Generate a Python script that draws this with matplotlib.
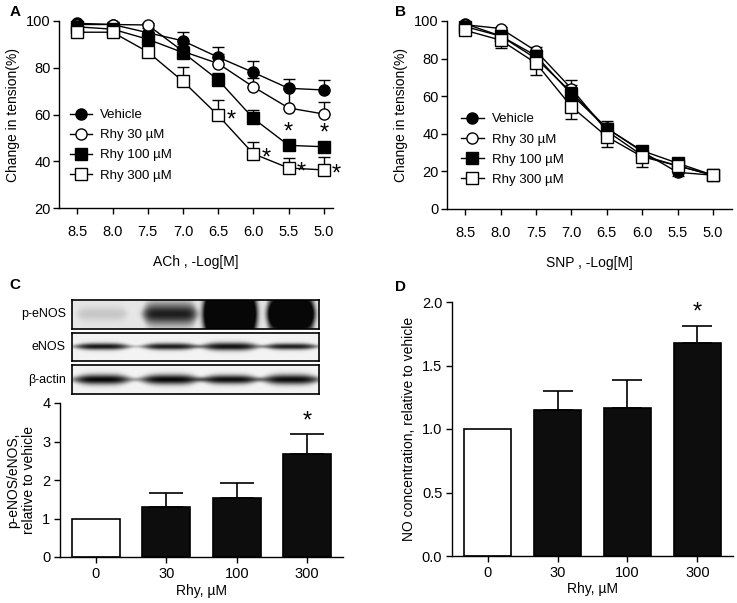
import numpy as np
import matplotlib
matplotlib.use("Agg")
import matplotlib.pyplot as plt

plt.rcParams['font.family'] = ['Liberation Sans', 'DejaVu Sans']
plt.rcParams['axes.linewidth'] = 1.0

# ---------------- data ----------------
doses = [8.5, 8.0, 7.5, 7.0, 6.5, 6.0, 5.5, 5.0]
dose_labels = ["8.5", "8.0", "7.5", "7.0", "6.5", "6.0", "5.5", "5.0"]
series_names = ["Vehicle", "Rhy 30 µM", "Rhy 100 µM", "Rhy 300 µM"]

ach_vehicle = [99.0, 98.5, 95.0, 91.5, 84.5, 78.0, 71.2, 70.5]
ach_rhy30 = [98.5, 98.5, 98.3, 87.0, 81.8, 71.8, 62.8, 60.2]
ach_rhy100 = [97.5, 96.5, 92.2, 86.5, 74.8, 58.3, 46.8, 46.2]
ach_rhy300 = [95.2, 95.2, 86.8, 74.2, 59.6, 43.2, 37.1, 36.3]
ach_err_vehicle = [1.0, 1.0, 2.0, 4.0, 4.5, 5.0, 4.0, 4.3]
ach_err_rhy30 = [1.0, 1.0, 1.0, 3.0, 4.0, 4.0, 8.0, 5.0]
ach_err_rhy100 = [1.0, 1.5, 3.0, 3.0, 3.0, 3.7, 1.5, 1.5]
ach_err_rhy300 = [1.5, 1.5, 2.0, 6.0, 6.6, 5.0, 4.5, 5.4]

snp_vehicle = [98.5, 92.0, 80.0, 62.0, 43.0, 30.5, 19.5, 18.0]
snp_rhy30 = [98.0, 96.0, 84.0, 64.0, 41.5, 28.5, 23.0, 18.0]
snp_rhy100 = [97.0, 92.0, 81.5, 61.0, 42.8, 31.0, 24.4, 18.0]
snp_rhy300 = [95.0, 89.8, 77.5, 54.4, 38.5, 27.8, 23.0, 18.0]
snp_err_vehicle = [1.0, 2.0, 3.0, 4.0, 4.0, 2.0, 2.0, 1.0]
snp_err_rhy30 = [1.0, 1.0, 2.0, 4.5, 3.0, 2.0, 2.0, 1.0]
snp_err_rhy100 = [1.0, 2.0, 3.0, 4.0, 3.0, 2.0, 2.0, 1.0]
snp_err_rhy300 = [1.0, 4.4, 6.0, 6.7, 5.5, 5.3, 3.0, 1.0]

# significance marks on panel A: (series index, dose index, placement)
ach_sig = [(3, 4, "right"), (3, 5, "right"), (3, 6, "right"), (3, 7, "right"),
           (2, 6, "above"), (2, 7, "above")]

rhy_labels = ["0", "30", "100", "300"]
peNOS_ratio = [1.0, 1.30, 1.54, 2.67]
peNOS_err = [0.0, 0.37, 0.38, 0.52]
peNOS_sig = [False, False, False, True]

no_conc = [1.0, 1.153, 1.169, 1.68]
no_err = [0.0, 0.15, 0.215, 0.13]
no_sig = [False, False, False, True]

# western blot band intensities per lane (values > 1 saturate)
blot_rows = ["p-eNOS", "eNOS", "β-actin"]
band_peNOS = [0.14, 0.9, 1.8, 1.6]
band_eNOS = [0.95, 0.93, 0.97, 0.92]
band_actin = [1.0, 1.0, 0.97, 0.98]

W, H = 737, 603
fig = plt.figure(figsize=(W / 100, H / 100), dpi=100)


def ax_px(l, t, r, b):
    return fig.add_axes([l / W, 1 - b / H, (r - l) / W, (b - t) / H])


styles = [dict(marker='o', mfc='black'), dict(marker='o', mfc='white'),
          dict(marker='s', mfc='black'), dict(marker='s', mfc='white')]
TICK_FS = 10.5
LAB_FS = 10
LEG_FS = 9.5
AST_FS = 17


def curve_panel(ax, ys, errs, ylim, yticks, xlabel, symmetric, leg_anchor):
    handles = []
    for i, (y, e) in enumerate(zip(ys, errs)):
        if symmetric:
            yerr = [e, e]
        else:
            yerr = [[0] * len(e), e]
        cont = ax.errorbar(doses, y, yerr=yerr, color='black', lw=1.0,
                           elinewidth=1.0, capsize=4.5, capthick=1.0,
                           marker=styles[i]['marker'], mfc=styles[i]['mfc'],
                           mec='black', mew=1.0, ms=8 if styles[i]['marker'] == 'o' else 8.5,
                           zorder=3 + i, clip_on=False)
        handles.append(cont[0])
    ax.set_xlim(8.76, 4.87 if not symmetric else 4.73)
    ax.set_ylim(*ylim)
    ax.set_yticks(yticks)
    ax.set_xticks(doses)
    ax.set_xticklabels(dose_labels)
    for s in ['top', 'right']:
        ax.spines[s].set_visible(False)
    ax.tick_params(axis='x', length=4, width=1, pad=8, labelsize=TICK_FS)
    ax.tick_params(axis='y', length=4, width=1, pad=2, labelsize=TICK_FS)
    ax.set_ylabel("Change in tension(%)", fontsize=LAB_FS, labelpad=4)
    ax.set_xlabel(xlabel, fontsize=LAB_FS, labelpad=12)
    ax.legend(handles, series_names, loc='upper left', bbox_to_anchor=leg_anchor,
              frameon=False, fontsize=LEG_FS, handlelength=1.7, handletextpad=0.6,
              labelspacing=0.6, borderpad=0, borderaxespad=0)
    return ax


# Panel A
axA = ax_px(59, 21, 333, 208)
ach_series = [ach_vehicle, ach_rhy30, ach_rhy100, ach_rhy300]
ach_errs = [ach_err_vehicle, ach_err_rhy30, ach_err_rhy100, ach_err_rhy300]
curve_panel(axA, ach_series, ach_errs, (20, 100), [20, 40, 60, 80, 100],
            "ACh , -Log[M]", False, (0.04, 0.53))
for si, di, place in ach_sig:
    x = doses[di]
    yv = ach_series[si][di]
    if place == "right":
        axA.text(x - 0.18, yv - 2.0, "*", fontsize=AST_FS, ha='center', va='center')
    else:
        axA.text(x, yv + 5.5, "*", fontsize=AST_FS, ha='center', va='center')

# Panel B
axB = ax_px(447, 21, 732, 209)
snp_series = [snp_vehicle, snp_rhy30, snp_rhy100, snp_rhy300]
snp_errs = [snp_err_vehicle, snp_err_rhy30, snp_err_rhy100, snp_err_rhy300]
curve_panel(axB, snp_series, snp_errs, (0, 100), [0, 20, 40, 60, 80, 100],
            "SNP , -Log[M]", True, (0.05, 0.51))


# Western blot (panel C top)
def blot_image(intens, hw, sy, yc_frac, npx_w, npx_h, centers, bg, edge):
    xx, yy = np.meshgrid(np.arange(npx_w) + 0.5, np.arange(npx_h) + 0.5)
    dark = np.zeros_like(xx)
    for k, c in enumerate(centers):
        prof_x = np.exp(-np.abs((xx - c) / hw[k]) ** edge)
        prof_y = np.exp(-((yy - yc_frac * npx_h) / (sy[k] * (0.35 + 0.65 * prof_x))) ** 2)
        dark += intens[k] * prof_x * prof_y
    dark = np.clip(dark, 0, 1)
    return bg - (bg - 0.03) * dark


lane_centers = [30, 98, 158, 219]
blot_specs = [
    (band_peNOS, [25, 27, 27, 24], [7, 11, 30, 20], 0.48, 300, 329, 0.9, 8),
    (band_eNOS, [28, 28, 29, 27], [3.2, 3.2, 3.8, 3.0], 0.5, 333, 361, 0.95, 4),
    (band_actin, [29, 30, 29, 29], [5.0, 5.0, 4.5, 5.0], 0.5, 365, 394, 0.95, 4),
]
for name, (intens, hw, sy, ycf, top, bot, bg, edge) in zip(blot_rows, blot_specs):
    axb = ax_px(72, top, 319, bot)
    img = blot_image(intens, hw, sy, ycf, 247, bot - top, lane_centers, bg, edge)
    axb.imshow(img, cmap='gray', vmin=0, vmax=1, aspect='auto',
               interpolation='bilinear', extent=(0, 247, bot - top, 0))
    axb.set_xticks([])
    axb.set_yticks([])
    for s in axb.spines.values():
        s.set_linewidth(1.2)
    axb.text(-0.025, 0.5, name, transform=axb.transAxes, ha='right', va='center',
             fontsize=9)


def bar_panel(ax, vals, errs, sigs, ylim, yticks, yfmt, ylabel, capsize, ast_off):
    x = np.arange(len(vals))
    colors = ['white'] + ['#0d0d0d'] * (len(vals) - 1)
    ax.bar(x, vals, width=0.68, color=colors, edgecolor='black', linewidth=1.2,
           zorder=2)
    for xi, v, e in zip(x, vals, errs):
        if e > 0:
            ax.errorbar(xi, v, yerr=[[0], [e]], color='black', elinewidth=1.2,
                        capsize=capsize, capthick=1.2, zorder=1, fmt='none')
    for xi, v, e, s in zip(x, vals, errs, sigs):
        if s:
            ax.text(xi, v + e + ast_off, "*", fontsize=AST_FS, ha='center',
                    va='center')
    ax.set_xlim(-0.51, len(vals) - 0.49)
    ax.set_ylim(*ylim)
    ax.set_yticks(yticks)
    ax.set_yticklabels([yfmt.format(t) for t in yticks])
    ax.set_xticks(x)
    ax.set_xticklabels(rhy_labels)
    for s in ['top', 'right']:
        ax.spines[s].set_visible(False)
    ax.tick_params(axis='both', length=4, width=1, pad=3, labelsize=TICK_FS)
    ax.set_ylabel(ylabel, fontsize=LAB_FS, labelpad=4)
    ax.set_xlabel("Rhy, µM", fontsize=LAB_FS, labelpad=2)


axC = ax_px(60, 403, 343, 557)
bar_panel(axC, peNOS_ratio, peNOS_err, peNOS_sig, (0, 4), [0, 1, 2, 3, 4], "{:d}",
          "p-eNOS/eNOS,\nrelative to vehicle", 12, 0.32)

axD = ax_px(452, 302, 733, 556)
bar_panel(axD, no_conc, no_err, no_sig, (0, 2.0), [0.0, 0.5, 1.0, 1.5, 2.0], "{:.1f}",
          "NO concentration, relative to vehicle", 10.5, 0.11)

# panel letters
for letter, (px, py) in zip("ABCD", [(15, 12), (400, 12), (15, 285), (401, 287)]):
    fig.text(px / W, 1 - py / H, letter, fontsize=11, fontweight='bold',
             ha='center', va='center')

fig.savefig("out.png", dpi=100)
